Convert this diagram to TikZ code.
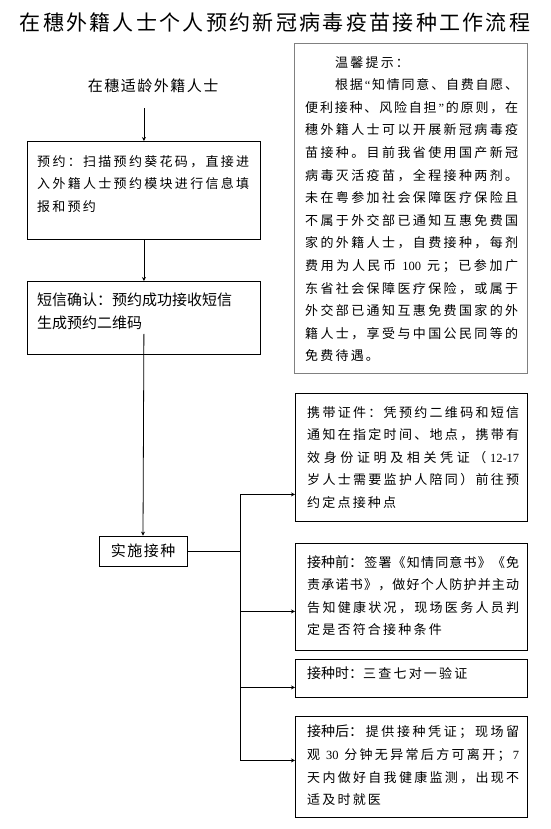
\documentclass[tikz,border=0pt]{standalone}
\usepackage{fontspec}
\setmainfont{Noto Sans CJK SC}
\newfontfamily\bodyfont{Noto Sans CJK SC}
\newfontfamily\titlefont[LetterSpace=11]{Noto Sans CJK SC}
\newfontfamily\headfont[LetterSpace=10]{Noto Sans CJK SC}
\newfontfamily\latinfont{Liberation Serif}
\usetikzlibrary{arrows.meta}
\definecolor{tipline}{RGB}{128,128,128}
\newcommand\lead[1]{{\normalfont\fontsize{14}{22.6}\selectfont #1}}
\newcommand\num[1]{{\latinfont\fontsize{12.5}{22.6}\selectfont #1}}
\newcommand\snum[1]{\num{\hspace{3.5pt}#1\hspace{3.5pt}}}
\newlength\cjkgap
\setlength\cjkgap{2.2pt}
\ExplSyntaxOn
% justified line: glue between every character
\NewDocumentCommand\jline{O{212pt}m}{\hbox~to~#1{\tl_map_inline:nn{#2}{##1\hfil}\unskip}}
% last line of a paragraph: fixed spacing
\NewDocumentCommand\sline{m}{\tl_map_inline:nn{#1}{##1\hspace{\cjkgap}}\unskip}
\ExplSyntaxOff

\begin{document}
\begin{tikzpicture}[
  x=1pt, y=-1pt,
  box/.style={draw, line width=0.8pt, anchor=north west, inner sep=0pt},
  txt/.style={anchor=north west, inner sep=0pt, align=left,
    font=\bodyfont\fontsize{13}{22.6}\selectfont},
  edge/.style={line width=0.8pt},
  arr/.style={edge, -{Stealth[length=4pt,width=4pt]}},
]
\useasboundingbox (0,0) rectangle (550,829);

% ---- Title and start ----
\node (title)  at (275,22) [font=\titlefont\fontsize{21}{25}\selectfont] {在穗外籍人士个人预约新冠病毒疫苗接种工作流程};
\node (person) at (153,86) [font=\headfont\fontsize{15}{18}\selectfont] {在穗适龄外籍人士};

% ---- Left column ----
\node (appt) at (27,141) [box, minimum width=233pt, minimum height=98pt] {};
\node (appttxt) at ([shift={(10,14)}]appt.north west) [txt]
  {\jline{预约：扫描预约葵花码，直接进}\\
   \jline{入外籍人士预约模块进行信息填}\\
   \sline{报和预约}};

\node (sms) at (27,281) [box, minimum width=233pt, minimum height=73pt] {};
\node (smstxt) at ([shift={(10,12)}]sms.north west) [txt, font=\bodyfont\fontsize{15}{22.7}\selectfont]
  {短信确认：预约成功接收短信\\生成预约二维码};

\node (shi) at (143,551) [draw, line width=0.8pt, minimum width=88pt, minimum height=30pt,
  font=\headfont\fontsize{15}{18}\selectfont] {实施接种};
\coordinate (bus) at (240,551);

% ---- Tip box ----
\node (tip) at (294,43) [box, draw=tipline, minimum width=233pt, minimum height=330pt] {};
\node (tiptxt) at ([shift={(11,13)}]tip.north west) [txt]
  {\hspace*{30pt}\sline{温馨提示：}\\
   \hspace*{30pt}\jline[183pt]{根据{\num{“}}知情同意、自费自愿、}\\
   \jline[213pt]{便利接种、风险自担{\num{”}}的原则，在}\\
   \jline[213pt]{穗外籍人士可以开展新冠病毒疫}\\
   \jline[213pt]{苗接种。目前我省使用国产新冠}\\
   \jline[213pt]{病毒灭活疫苗，全程接种两剂。}\\
   \jline[213pt]{未在粤参加社会保障医疗保险且}\\
   \jline[213pt]{不属于外交部已通知互惠免费国}\\
   \jline[213pt]{家的外籍人士，自费接种，每剂}\\
   \jline[213pt]{费用为人民币{\snum{100}}元；已参加广}\\
   \jline[213pt]{东省社会保障医疗保险，或属于}\\
   \jline[213pt]{外交部已通知互惠免费国家的外}\\
   \jline[213pt]{籍人士，享受与中国公民同等的}\\
   \sline{免费待遇。}};

% ---- Right column ----
\node (carry) at (295,393) [box, minimum width=232pt, minimum height=128pt] {};
\node (carrytxt) at ([shift={(12,13)}]carry.north west) [txt]
  {\jline{携带证件：凭预约二维码和短信}\\
   \jline{通知在指定时间、地点，携带有}\\
   \jline{效身份证明及相关凭证（{\num{12-17}}}\\
   \jline{岁人士需要监护人陪同）前往预}\\
   \sline{约定点接种点}};

\node (pre) at (295,543) [box, minimum width=232pt, minimum height=107pt] {};
\node (pretxt) at ([shift={(12,12)}]pre.north west) [txt]
  {\jline{{\lead{接种前：}}签署《知情同意书》《免}\\
   \jline{责承诺书》，做好个人防护并主动}\\
   \jline{告知健康状况，现场医务人员判}\\
   \sline{定是否符合接种条件}};

\node (during) at (295,659) [box, minimum width=232pt, minimum height=38pt] {};
\node (duringtxt) at ([shift={(12,8)}]during.north west) [txt]
  {\lead{接种时：}\sline{三查七对一验证}};

\node (post) at (295,716) [box, minimum width=232pt, minimum height=101pt] {};
\node (posttxt) at ([shift={(12,9)}]post.north west) [txt]
  {\jline{{\lead{接种后：}}提供接种凭证；现场留}\\
   \jline{观{\snum{30}}分钟无异常后方可离开；{\num{7}}}\\
   \jline{天内做好自我健康监测，出现不}\\
   \sline{适及时就医}};

% ---- Edges ----
\draw[arr] ([yshift=-12pt]person.south -| appt.north) -- (appt.north);
\draw[arr] (appt) -- (sms);
\draw[arr] ([yshift=21pt]sms.south) -- (shi.north);
\draw[edge] (shi.east) -- (bus);
\foreach \b/\dy in {carry/-37, pre/-14.5, during/-9, post/6.5}
  \draw[arr] (bus) |- ([yshift=\dy pt]\b.west);

\end{tikzpicture}
\end{document}
